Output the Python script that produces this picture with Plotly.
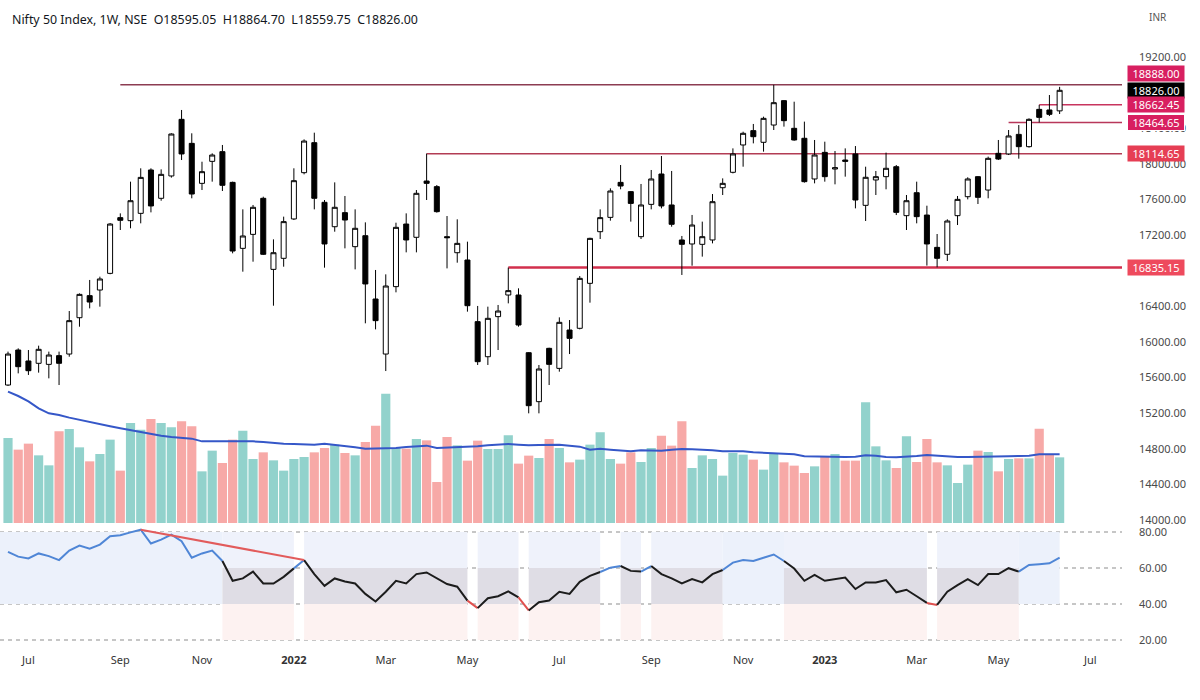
import pandas as pd
import plotly.graph_objects as go

# ---------------- data ----------------
dates = pd.date_range("2021-06-21", periods=104, freq="7D")

opens = [15516, 15909, 15786, 15760, 15748, 15846, 15864, 16272, 16520, 16583,
         16770, 17396, 17362, 17444, 17931, 17613, 17864, 18500, 18230, 17781,
         18028, 18137, 17792, 17051, 17208, 17613, 16815, 16939, 17381, 17901,
         18238, 17568, 17294, 17452, 17070, 17193, 16482, 15864, 16621, 17324,
         17175, 17807, 17744, 17182, 17002, 16920, 16228, 15834, 16284, 16527,
         16527, 15879, 15329, 15928, 15703, 16134, 16153, 16658, 17238, 17399,
         17792, 17688, 17182, 17545, 17886, 17538, 17145, 17100, 17096, 17145,
         17732, 17905, 18212, 18373, 18242, 18436, 18710, 18399, 18287, 17830,
         18129, 17942, 18043, 18111, 17534, 17819, 17856, 17968, 17418, 17676,
         17425, 17062, 16984, 17418, 17631, 17856, 17706, 18118, 18111, 18331,
         18193, 18612, 18605, 18595.05]

highs = [15891, 15928, 15909, 15958, 15891, 15891, 16347, 16545, 16696, 16733,
         17335, 17444, 17800, 17950, 17950, 17938, 18343, 18605, 18343, 18024,
         18118, 18212, 17800, 17489, 17538, 17631, 17152, 17407, 17950, 18275,
         18350, 17594, 17792, 17639, 17489, 17343, 16808, 16759, 17339, 17444,
         17706, 18114.65, 17762, 17414, 17377, 17126, 16404, 16396, 16415, 16835.15,
         16602, 15885, 15741, 15935, 16276, 16246, 16740, 17170, 17489, 17725,
         17987, 17695, 17774, 17931, 18088, 17920, 17190, 17426, 17351, 17661,
         17837, 18174, 18361, 18448, 18530, 18887.6, 18716, 18698, 18474, 18268,
         18249, 18144, 18174, 18200, 17968, 17920, 18126, 17987, 17650, 17800,
         17530, 17212, 17377, 17639, 17849, 17862, 18081, 18268, 18380, 18436,
         18511, 18662.45, 18773, 18864.70]

lows = [15505, 15647, 15629, 15655, 15591, 15516, 15834, 16171, 16377, 16396,
        16760, 17257, 17276, 17332, 17455, 17586, 17845, 18043, 17613, 17706,
        17800, 17695, 16995, 16789, 16901, 16976, 16407, 16845, 17369, 17882,
        17489, 16834, 17238, 17051, 16815, 16209, 16141, 15673, 16557, 17006,
        17006, 17594, 17452, 16826, 16890, 16340, 15741, 15741, 15909, 16433,
        16171, 15198, 15198, 15516, 15666, 15864, 16141, 16441, 17156, 17362,
        17714, 17351, 17156, 17489, 17500, 17294, 16752, 16856, 16958, 17107,
        17650, 17893, 17968, 18230, 18137, 18380, 18418, 18260, 17789, 17781,
        17800, 17770, 17856, 17500, 17358, 17650, 17714, 17425, 17257, 17332,
        16857, 16838, 16909, 17313, 17601, 17549, 17613, 18043, 18099, 18058,
        18182, 18464.65, 18537, 18559.75]

closes = [15864, 15722, 15677, 15917, 15853, 15760, 16239, 16534, 16448, 16707,
          17324, 17366, 17586, 17848, 17527, 17882, 18335, 18111, 17661, 17912,
          18099, 17759, 17021, 17190, 17512, 16984, 17002, 17351, 17811, 18256,
          17613, 17100, 17512, 17369, 17276, 16651, 16239, 16628, 17287, 17145,
          17669, 17781, 17463, 17171, 17107, 16407, 15778, 16265, 16347, 16576,
          16190, 15284, 15696, 15748, 16220, 16040, 16714, 17163, 17396, 17695,
          17751, 17556, 17538, 17830, 17527, 17321, 17096, 17313, 17182, 17575,
          17781, 18111, 18343, 18305, 18511, 18687, 18485, 18268, 17800, 18099,
          17856, 17957, 18028, 17594, 17849, 17856, 17950, 17455, 17586, 17407,
          17100, 16939, 17358, 17601, 17830, 17624, 18062, 18054, 18313, 18193,
          18500, 18522, 18556, 18826.00]

# weekly volume (millions, relative scale)
volume = [1700, 1467, 1587, 1353, 1153, 1833, 1880, 1513, 1233, 1380,
          1667, 1047, 2000, 1867, 2080, 2000, 1913, 2033, 1933, 1033,
          1447, 1200, 1667, 1847, 1280, 1413, 1253, 1047, 1280, 1320,
          1413, 1500, 1567, 1400, 1353, 1620, 1947, 2587, 1500, 1487,
          1680, 1653, 820, 1720, 1553, 1247, 1647, 1480, 1480, 1753,
          1187, 1347, 1300, 1680, 1500, 1213, 1267, 1567, 1813, 1280,
          1187, 1413, 1220, 1500, 1747, 1547, 2033, 1100, 1353, 1280,
          947, 1400, 1367, 1267, 1067, 1400, 1213, 1147, 1000, 1133,
          1320, 1380, 1247, 1247, 2413, 1533, 1253, 1100, 1733, 1220,
          1680, 1213, 1153, 800, 1167, 1447, 1420, 1033, 1280, 1293,
          1293, 1887, 1367, 1313]

volume_ma = [2627, 2540, 2433, 2293, 2193, 2160, 2107, 2060, 2020, 1980,
             1933, 1893, 1853, 1813, 1773, 1747, 1720, 1700, 1687, 1633,
             1633, 1633, 1633, 1640, 1633, 1620, 1600, 1587, 1580, 1573,
             1567, 1587, 1567, 1533, 1513, 1487, 1487, 1487, 1500, 1520,
             1533, 1547, 1500, 1507, 1513, 1520, 1533, 1553, 1573, 1580,
             1567, 1553, 1560, 1567, 1567, 1547, 1527, 1467, 1487, 1467,
             1447, 1433, 1453, 1453, 1447, 1467, 1480, 1473, 1467, 1453,
             1433, 1433, 1433, 1413, 1400, 1400, 1387, 1373, 1333, 1327,
             1320, 1320, 1320, 1327, 1353, 1347, 1320, 1313, 1320, 1340,
             1360, 1347, 1327, 1320, 1320, 1320, 1320, 1327, 1333, 1340,
             1347, 1373, 1373, 1373]

rsi = [69.0, 66.3, 65.3, 68.1, 66.6, 64.4, 69.7, 72.5, 70.7, 73.0,
       77.6, 78.2, 79.8, 81.3, 73.6, 75.8, 78.5, 74.9, 65.7, 68.1,
       69.7, 63.9, 52.9, 54.2, 58.0, 51.4, 51.4, 55.1, 59.8, 64.4,
       56.6, 50.1, 54.2, 52.5, 51.4, 45.6, 41.4, 46.8, 52.9, 51.4,
       56.6, 57.5, 54.4, 51.1, 49.6, 41.9, 37.7, 43.2, 44.3, 47.0,
       43.7, 36.4, 41.0, 41.9, 46.8, 45.6, 52.3, 55.6, 57.8, 60.2,
       61.1, 58.4, 58.0, 61.1, 56.6, 54.2, 51.4, 53.8, 52.0, 56.6,
       58.9, 63.0, 64.4, 63.9, 65.7, 67.5, 63.9, 59.7, 52.9, 56.2,
       52.9, 53.8, 54.7, 48.3, 52.0, 52.0, 53.3, 46.5, 47.9, 44.3,
       40.6, 39.5, 46.8, 50.5, 53.8, 50.5, 56.6, 56.6, 59.9, 58.0,
       61.7, 62.1, 62.6, 65.7]

# RSI background regime per bar: B = bullish, N = neutral, W = none
zone_runs = [("B", 22), ("N", 7), ("W", 1), ("N", 16), ("W", 1), ("N", 4), ("W", 1),
             ("N", 7), ("W", 2), ("N", 2), ("W", 1), ("N", 7), ("B", 6), ("N", 14),
             ("W", 1), ("N", 8), ("B", 4)]

# RSI divergence trendline (bar numbers, 1-based)
rsi_trend_bars = [14, 30]

# horizontal levels: price, first bar (1-based)
level_prices = [18888.00, 18662.45, 18464.65, 18114.65, 16835.15]
level_start = [12, 102, 99, 42, 50]

price_ticks = [14000, 14400, 14800, 15200, 15600, 16000, 16400,
               17200, 17600, 18000, 18400, 19200]
rsi_ticks = [20, 40, 60, 80]
month_ticks = ["2021-07-05", "2021-09-06", "2021-11-01", "2022-01-03", "2022-03-07",
               "2022-05-02", "2022-07-04", "2022-09-05", "2022-11-07", "2023-01-02",
               "2023-03-06", "2023-05-01", "2023-07-03"]
month_text = ["Jul", "Sep", "Nov", "<b>2022</b>", "Mar", "May", "Jul", "Sep", "Nov",
              "<b>2023</b>", "Mar", "May", "Jul"]

title_text = "Nifty 50 Index, 1W, NSE  O18595.05  H18864.70  L18559.75  C18826.00"

# ---------------- styling / layout ----------------
FONT = "Noto Sans"
W, H = 1200, 700
ML, MR, MT, MB = 0, 78, 5, 48
PW, PH = W - ML - MR, H - MT - MB
bar_px = 10.21
first_px = 8.0
day = pd.Timedelta(days=1)
x_start = dates[0] - day * (first_px / bar_px * 7)
x_end = dates[0] + day * ((PW - first_px) / bar_px * 7)

def frac(py):  # pixel y (from top of figure) -> paper fraction
    return (MT + PH - py) / PH

main_dom = [frac(525), 1.0]
rsi_dom = [0.0, frac(527)]
px_per_pt = 0.08904
price_range = [19200 - (525 - 57) / px_per_pt, 19200 + (57 - MT) / px_per_pt]
rsi_range = [20 - (652 - 640) / 1.8, 80 + (532 - 527) / 1.8]
vol_per_px = 20.0
vol_range = [-(525 - 523) * vol_per_px, (523 - MT) * vol_per_px]

UP_VOL = "rgba(38,166,154,0.5)"
DN_VOL = "rgba(239,83,80,0.5)"

fig = go.Figure()

vol_colors = [UP_VOL if c >= o else DN_VOL for o, c in zip(opens, closes)]
fig.add_trace(go.Bar(x=dates, y=volume, marker=dict(color=vol_colors, line=dict(width=0)),
                     width=6.3 * 86400000, yaxis="y", xaxis="x", showlegend=False,
                     hoverinfo="skip"))
fig.add_trace(go.Scatter(x=dates, y=volume_ma, mode="lines", yaxis="y", xaxis="x",
                         line=dict(color="#3557c8", width=2), showlegend=False,
                         hoverinfo="skip"))

fig.add_trace(go.Candlestick(x=dates, open=opens, high=highs, low=lows, close=closes,
                             yaxis="y2", xaxis="x", showlegend=False,
                             increasing=dict(line=dict(color="#000000", width=1),
                                             fillcolor="#ffffff"),
                             decreasing=dict(line=dict(color="#000000", width=1),
                                             fillcolor="#000000"),
                             whiskerwidth=0))

shapes = []
# RSI background columns
zones = []
for z, n in zone_runs:
    zones += [z] * n
edges = [dates[0] - 7 * day] + list(dates)
i = 0
while i < len(zones):
    j = i
    while j + 1 < len(zones) and zones[j + 1] == zones[i]:
        j += 1
    x0, x1 = edges[i], edges[j + 1]
    if zones[i] == "B":
        shapes.append(dict(type="rect", xref="x", yref="y3", x0=x0, x1=x1, y0=40, y1=80,
                           fillcolor="#ecf1fb", line=dict(width=0), layer="below"))
    elif zones[i] == "N":
        shapes.append(dict(type="rect", xref="x", yref="y3", x0=x0, x1=x1, y0=60, y1=80,
                           fillcolor="#eff2fb", line=dict(width=0), layer="below"))
        shapes.append(dict(type="rect", xref="x", yref="y3", x0=x0, x1=x1, y0=40, y1=60,
                           fillcolor="#dfdde5", line=dict(width=0), layer="below"))
        shapes.append(dict(type="rect", xref="x", yref="y3", x0=x0, x1=x1, y0=20, y1=40,
                           fillcolor="#fdf2f1", line=dict(width=0), layer="below"))
    i = j + 1

for v in rsi_ticks:
    shapes.append(dict(type="line", xref="paper", yref="y3", x0=0, x1=1, y0=v, y1=v,
                       line=dict(color="#8d8d8d", width=1, dash="4px,4px"), layer="below"))

level_colors = ["#8c3c52", "#c8345e", "#b8375a", "#b23c54", "#d22f4d"]
level_widths = [1.5, 1.5, 1.5, 1.5, 2.5]
for p, sb, col, lw in zip(level_prices, level_start, level_colors, level_widths):
    shapes.append(dict(type="line", xref="x", yref="y2", x0=dates[sb - 1], x1=x_end,
                       y0=p, y1=p, line=dict(color=col, width=lw), layer="below"))

# RSI line, colored per segment
def seg_color(k):
    if zones[k] == "B":
        return "#4f86d6"
    if zones[k] == "N":
        return "#1c1c1c"
    return "#4f86d6" if rsi[k] >= 50 else "#e0514f"

groups = []
for k in range(1, len(rsi)):
    c = seg_color(k)
    if groups and groups[-1][0] == c and groups[-1][2] == k - 1:
        groups[-1][1].append(k)
        groups[-1][2] = k
    else:
        groups.append([c, [k - 1, k], k])
for c, idx, _ in groups:
    fig.add_trace(go.Scatter(x=[dates[k] for k in idx], y=[rsi[k] for k in idx],
                             mode="lines", yaxis="y3", xaxis="x",
                             line=dict(color=c, width=2), showlegend=False,
                             hoverinfo="skip"))

fig.add_trace(go.Scatter(x=[dates[b - 1] for b in rsi_trend_bars],
                         y=[rsi[b - 1] for b in rsi_trend_bars], mode="lines",
                         yaxis="y3", xaxis="x", line=dict(color="#e25b5b", width=2),
                         showlegend=False, hoverinfo="skip"))

annotations = [
    dict(text=title_text.replace(" ", "\u00a0"), xref="paper", yref="paper",
         x=10 / PW, y=frac(20), xanchor="left", yanchor="middle", showarrow=False,
         font=dict(family=FONT, size=12.4, color="#131722")),
    dict(text="INR", xref="paper", yref="paper", x=(1158 - ML) / PW, y=frac(17),
         xanchor="center", yanchor="middle", showarrow=False,
         font=dict(family=FONT, size=10, color="#555555")),
]

tags = [(18888.00, "#d81f60", 11, None), (18826.00, "#000000", 0, None),
        (18662.45, "#d81f60", 0, None), (18464.65, "#d81f60", 0, "#ffffff"),
        (18114.65, "#e63e54", 0, None), (16835.15, "#ee4a5d", 0, None)]
for p, bg, ys, bc in tags:
    a = dict(text=f"{p:.2f}", xref="paper", yref="y2", x=1, y=p, xanchor="left",
             yanchor="middle", xshift=5, yshift=ys, showarrow=False, bgcolor=bg,
             width=54, height=13, borderpad=1, align="center",
             font=dict(family=FONT, size=11, color="#ffffff"))
    if bc:
        a.update(bordercolor=bc, borderwidth=1)
    annotations.append(a)

fig.update_layout(
    width=W, height=H, margin=dict(l=ML, r=MR, t=MT, b=MB),
    paper_bgcolor="#ffffff", plot_bgcolor="#ffffff",
    showlegend=False, bargap=0.1, boxgap=0.3,
    font=dict(family=FONT, size=11, color="#333333"),
    shapes=shapes, annotations=annotations,
    xaxis=dict(type="date", range=[x_start, x_end], anchor="y3", domain=[0, 1],
               showgrid=False, zeroline=False, showline=False, ticks="",
               tickvals=month_ticks, ticktext=month_text,
               tickfont=dict(family=FONT, size=11, color="#333333"),
               rangeslider=dict(visible=False)),
    yaxis=dict(domain=main_dom, range=vol_range, visible=False, showgrid=False,
               zeroline=False, anchor="x"),
    yaxis2=dict(domain=main_dom, range=price_range, overlaying="y", side="right",
                anchor="x", showgrid=False, zeroline=False, showline=False, ticks="",
                tickvals=price_ticks, ticktext=[f"{v:.2f}" for v in price_ticks],
                ticklabelstandoff=16,
                tickfont=dict(family=FONT, size=11, color="#4a4a4a")),
    yaxis3=dict(domain=rsi_dom, range=rsi_range, side="right", anchor="x",
                showgrid=False, zeroline=False, showline=False, ticks="",
                tickvals=rsi_ticks, ticktext=[f"{v:.2f}" for v in rsi_ticks],
                ticklabelstandoff=16,
                tickfont=dict(family=FONT, size=11, color="#4a4a4a")),
)

fig.write_html("out.html", config={"displayModeBar": False},
               post_script="document.body.style.margin='0';"
                           "document.body.style.overflow='hidden';")
